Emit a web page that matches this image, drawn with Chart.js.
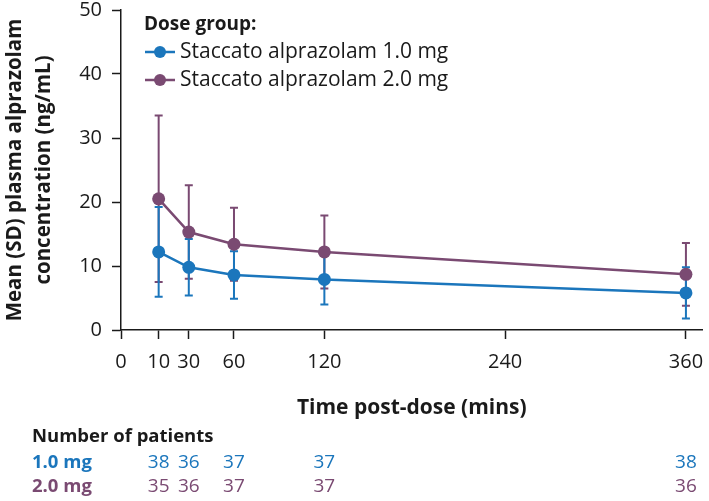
<!DOCTYPE html>
<html lang="en">
<head>
    <meta charset="UTF-8">
    <title>Plasma alprazolam concentration</title>
    <style>
        html, body { margin: 0; padding: 0; background: #fff; }
        #wrap { width: 709px; height: 501px; }
    </style>
</head>
<body>
    <div id="wrap">
        <canvas id="myChart" width="709" height="501"></canvas>
    </div>
    <script src="https://cdn.jsdelivr.net/npm/chart.js"></script>
    <script>
        // values
        const timePoints = [10, 30, 60, 120, 360];
        const xTickValues = [0, 10, 30, 60, 120, 240, 360];
        const yTickValues = [0, 10, 20, 30, 40, 50];

        const mean1mg = [12.2, 9.8, 8.6, 7.9, 5.8];
        const sd1mg = [7.0, 4.4, 3.7, 3.9, 4.0];
        const mean2mg = [20.5, 15.3, 13.4, 12.2, 8.7];
        const sd2mg = [13.0, 7.3, 5.7, 5.7, 4.9];

        const patients1mg = [38, 36, 37, 37, 38];
        const patients2mg = [35, 36, 37, 37, 36];

        const seriesLabels = ['Staccato alprazolam 1.0 mg', 'Staccato alprazolam 2.0 mg'];
        const rowLabels = ['1.0 mg', '2.0 mg'];

        const BLUE = '#1b76bc';
        const PURPLE = '#7a4a72';
        const INK = '#1a1a1a';
        const FONT = '"Open Sans"';

        Chart.defaults.font.family = FONT;
        Chart.defaults.color = INK;

        // SD whiskers, drawn under the points
        const errorBarPlugin = {
            id: 'errorBars',
            beforeDatasetsDraw: (chart) => {
                const ctx = chart.ctx;
                const xScale = chart.scales.x;
                const yScale = chart.scales.y;
                for (let i = chart.data.datasets.length - 1; i >= 0; i--) {
                    const ds = chart.data.datasets[i];
                    ctx.save();
                    ctx.strokeStyle = ds.borderColor;
                    ctx.lineWidth = 2;
                    ds.data.forEach((pt, j) => {
                        const x = xScale.getPixelForValue(pt.x);
                        const yHi = yScale.getPixelForValue(pt.y + ds.sd[j]);
                        const yLo = yScale.getPixelForValue(pt.y - ds.sd[j]);
                        ctx.beginPath();
                        ctx.moveTo(x, yHi);
                        ctx.lineTo(x, yLo);
                        ctx.moveTo(x - 4, yHi);
                        ctx.lineTo(x + 4, yHi);
                        ctx.moveTo(x - 4, yLo);
                        ctx.lineTo(x + 4, yLo);
                        ctx.stroke();
                    });
                    ctx.restore();
                }
            }
        };

        // legend box inside the plot and the patient count table below it
        const extrasPlugin = {
            id: 'extras',
            afterDraw: (chart) => {
                const ctx = chart.ctx;
                const xScale = chart.scales.x;
                ctx.save();
                ctx.textBaseline = 'middle';

                // legend
                ctx.font = `bold 19px ${FONT}`;
                ctx.fillStyle = INK;
                ctx.textAlign = 'left';
                ctx.fillText('Dose group:', 144, 25);
                ctx.font = `21px ${FONT}`;
                chart.data.datasets.forEach((ds, i) => {
                    const y = 52 + i * 28;
                    ctx.strokeStyle = ds.borderColor;
                    ctx.lineWidth = 2.5;
                    ctx.beginPath();
                    ctx.moveTo(145, y);
                    ctx.lineTo(175, y);
                    ctx.stroke();
                    ctx.fillStyle = ds.borderColor;
                    ctx.beginPath();
                    ctx.arc(160, y, 6, 0, Math.PI * 2);
                    ctx.fill();
                    ctx.fillStyle = INK;
                    ctx.fillText(ds.label, 180, y);
                });

                // number of patients
                ctx.font = `bold 18.5px ${FONT}`;
                ctx.fillStyle = INK;
                ctx.fillText('Number of patients', 32, 437);
                const rows = [patients1mg, patients2mg];
                const colors = [BLUE, PURPLE];
                rows.forEach((counts, r) => {
                    const y = 463 + r * 24;
                    ctx.fillStyle = colors[r];
                    ctx.textAlign = 'left';
                    ctx.font = `bold 18.5px ${FONT}`;
                    ctx.fillText(rowLabels[r], 32, y);
                    ctx.textAlign = 'center';
                    ctx.font = `19px ${FONT}`;
                    counts.forEach((n, j) => {
                        ctx.fillText(String(n), xScale.getPixelForValue(timePoints[j]), y);
                    });
                });
                ctx.restore();
            }
        };

        const ctx = document.getElementById('myChart').getContext('2d');
        const chartInstance = new Chart(ctx, {
            type: 'line',
            data: {
                datasets: [
                    {
                        label: seriesLabels[0],
                        data: timePoints.map((t, i) => ({ x: t, y: mean1mg[i] })),
                        sd: sd1mg,
                        borderColor: BLUE,
                        backgroundColor: BLUE,
                        borderWidth: 2.5,
                        pointRadius: 6.5,
                        pointHoverRadius: 6.5,
                        pointBorderWidth: 0,
                        tension: 0,
                        fill: false
                    },
                    {
                        label: seriesLabels[1],
                        data: timePoints.map((t, i) => ({ x: t, y: mean2mg[i] })),
                        sd: sd2mg,
                        borderColor: PURPLE,
                        backgroundColor: PURPLE,
                        borderWidth: 2.5,
                        pointRadius: 6.5,
                        pointHoverRadius: 6.5,
                        pointBorderWidth: 0,
                        tension: 0,
                        fill: false
                    }
                ]
            },
            options: {
                responsive: false,
                animation: false,
                layout: {
                    padding: { top: 10, right: 4, bottom: 80, left: 0 }
                },
                plugins: {
                    legend: { display: false },
                    tooltip: { enabled: false }
                },
                scales: {
                    x: {
                        type: 'linear',
                        min: -15,
                        max: 371,
                        afterBuildTicks: (scale) => {
                            // the "0" label sits at the axis origin, as in the figure
                            scale.ticks = xTickValues.map(v => ({ value: v === 0 ? scale.min : v }));
                        },
                        afterFit: (scale) => {
                            scale.height = 91;
                            scale.paddingLeft = 0;
                            scale.paddingRight = 0;
                        },
                        ticks: {
                            autoSkip: false,
                            maxRotation: 0,
                            padding: 11,
                            color: INK,
                            font: { size: 20 },
                            callback: (value, index) => xTickValues[index]
                        },
                        grid: {
                            display: true,
                            drawOnChartArea: false,
                            tickLength: 9,
                            tickWidth: 1.5,
                            color: INK
                        },
                        border: { display: true, color: INK, width: 1.5 },
                        title: {
                            display: true,
                            text: 'Time post-dose (mins)',
                            color: INK,
                            font: { size: 21, weight: 'bold' },
                            padding: { top: 0, bottom: 0 }
                        }
                    },
                    y: {
                        min: 0,
                        max: 50,
                        afterBuildTicks: (scale) => {
                            scale.ticks = yTickValues.map(v => ({ value: v }));
                        },
                        afterFit: (scale) => {
                            scale.width = 121;
                            scale.paddingTop = 0;
                        },
                        ticks: {
                            padding: 10,
                            color: INK,
                            font: { size: 20 }
                        },
                        grid: {
                            display: true,
                            drawOnChartArea: false,
                            tickLength: 9,
                            tickWidth: 1.5,
                            color: INK
                        },
                        border: { display: true, color: INK, width: 1.5 },
                        title: {
                            display: true,
                            text: ['Mean (SD) plasma alprazolam', 'concentration (ng/mL)'],
                            color: INK,
                            font: { size: 20.5, weight: 'bold', lineHeight: 1.45 },
                            padding: { top: 0, bottom: 0 }
                        }
                    }
                }
            },
            plugins: [errorBarPlugin, extrasPlugin]
        });
    </script>
</body>
</html>
